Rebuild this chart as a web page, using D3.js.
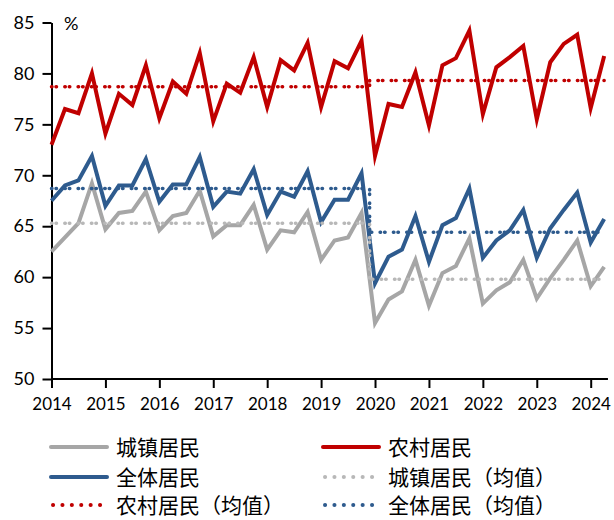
<!DOCTYPE html>
<html>
<head>
<meta charset="utf-8">
<script src="https://cdn.jsdelivr.net/npm/d3@7/dist/d3.min.js"></script>
<style>
  html, body { margin: 0; padding: 0; background: #fff; }
  svg { display: block; }
</style>
</head>
<body>
<svg id="chart" width="614" height="520"></svg>
<script>
// ---- Data (quarterly, 2014Q1 - 2024Q2) ----
const years = [2014, 2015, 2016, 2017, 2018, 2019, 2020, 2021, 2022, 2023, 2024];
const quarters = [];
for (let y = 2014; y <= 2024; y++) for (let q = 1; q <= 4; q++) if (!(y === 2024 && q > 2)) quarters.push(y + "Q" + q);

const urban = [62.5, 63.9, 65.3, 69.2, 64.7, 66.3, 66.5, 68.4, 64.6, 66.0, 66.3, 68.5,
               64.0, 65.1, 65.1, 67.1, 62.7, 64.6, 64.4, 66.4, 61.7, 63.6, 63.9, 66.3,
               55.5, 57.8, 58.6, 61.7, 57.2, 60.4, 61.1, 63.8, 57.4, 58.7, 59.5, 61.7,
               57.9, 59.9, 61.7, 63.6, 59.1, 61.0];
const rural = [73.0, 76.5, 76.1, 80.0, 74.1, 78.0, 76.9, 80.8, 75.6, 79.2, 78.0, 82.0,
               75.3, 79.0, 78.1, 81.6, 76.7, 81.3, 80.3, 83.0, 76.7, 81.2, 80.5, 83.2,
               71.9, 77.0, 76.7, 80.1, 74.9, 80.8, 81.5, 84.2, 76.0, 80.6, 81.6, 82.7,
               75.5, 81.1, 82.9, 83.8, 76.6, 81.7];
const total = [67.5, 69.0, 69.5, 71.9, 67.0, 69.0, 69.0, 71.6, 67.4, 69.1, 69.1, 71.8,
               66.9, 68.4, 68.2, 70.6, 66.1, 68.4, 67.9, 70.4, 65.4, 67.6, 67.6, 70.2,
               59.4, 62.0, 62.7, 66.0, 61.5, 65.1, 65.8, 68.7, 61.9, 63.6, 64.6, 66.6,
               61.9, 64.8, 66.6, 68.3, 63.4, 65.7];
// period means: 2014Q1-2019Q4, 2020Q1-2024Q2
const urbanMean = [65.3, 59.8];
const ruralMean = [78.7, 79.3];
const totalMean = [68.7, 64.4];
const yTicks = [50, 55, 60, 65, 70, 75, 80, 85];
const legendLabels = ["城镇居民", "农村居民", "全体居民", "城镇居民（均值）", "农村居民（均值）", "全体居民（均值）"];

// ---- Styles ----
const C_GRAY = "#a6a6a6", C_GRAY_D = "#b8b8b8", C_RED = "#c00000", C_BLUE = "#2e5b8e";
const svg = d3.select("#chart");
const FONT = "Lato, 'Liberation Sans', sans-serif";
const CJK = "'Noto Sans CJK SC', sans-serif";

// time value for each quarter index
const tOf = i => 2014 + i * 0.25;
const x = d3.scaleLinear().domain([2014, 2024]).range([51.5, 590.7]);
const y = d3.scaleLinear().domain([50, 85]).range([379, 22.5]);

// ---- Axes ----
const yAxis = d3.axisLeft(y).tickValues(yTicks).tickSize(9).tickSizeOuter(0).tickPadding(8);
const gy = svg.append("g").attr("transform", "translate(51.5,0)").call(yAxis);
gy.select(".domain").attr("stroke", "#000").attr("stroke-width", 2);
gy.selectAll(".tick line").attr("stroke", "#000").attr("stroke-width", 2);
gy.selectAll(".tick text").attr("font-family", FONT).attr("font-size", 18).attr("fill", "#000");

const xAxis = d3.axisBottom(x).tickValues(years).tickFormat(d3.format("d")).tickSize(9).tickSizeOuter(0).tickPadding(10);
const gx = svg.append("g").attr("transform", "translate(0,379)").call(xAxis);
gx.select(".domain").attr("d", `M${x(2014)},0H${x(2024.32)}`).attr("stroke", "#000").attr("stroke-width", 2);
gx.selectAll(".tick line").attr("stroke", "#000").attr("stroke-width", 2);
gx.selectAll(".tick text").attr("font-family", FONT).attr("font-size", 17).attr("fill", "#000");

svg.append("text").attr("x", 64).attr("y", 30).attr("font-family", FONT).attr("font-size", 18).text("%");

// ---- Lines ----
const line = d3.line().x((d, i) => x(tOf(i))).y(d => y(d));
const series = [
  { data: urban, color: C_GRAY },
  { data: rural, color: C_RED },
  { data: total, color: C_BLUE }
];
series.forEach(s => {
  svg.append("path").datum(s.data).attr("d", line)
    .attr("fill", "none").attr("stroke", s.color).attr("stroke-width", 4)
    .attr("stroke-linejoin", "miter").attr("stroke-miterlimit", 10);
});

// mean lines (step at the 2019/2020 boundary)
const split = 23.6, lastIdx = quarters.length - 1;
const means = [
  { m: urbanMean, color: C_GRAY_D },
  { m: ruralMean, color: C_RED },
  { m: totalMean, color: C_BLUE }
];
const meanLine = d3.line().x(d => x(tOf(d[0]))).y(d => y(d[1]));
means.forEach(s => {
  const pts = [[0, s.m[0]], [split, s.m[0]], [split, s.m[1]], [lastIdx, s.m[1]]];
  svg.append("path").datum(pts).attr("d", meanLine)
    .attr("fill", "none").attr("stroke", s.color).attr("stroke-width", 3.5)
    .attr("stroke-linecap", "round").attr("stroke-dasharray", "0.5,4,0.5,8.3");
});

// ---- Legend ----
const legendItems = [
  { label: legendLabels[0], color: C_GRAY, dotted: false },
  { label: legendLabels[1], color: C_RED, dotted: false },
  { label: legendLabels[2], color: C_BLUE, dotted: false },
  { label: legendLabels[3], color: C_GRAY_D, dotted: true },
  { label: legendLabels[4], color: C_RED, dotted: true },
  { label: legendLabels[5], color: C_BLUE, dotted: true }
];
const colX = [51, 323], rowY = [447, 477, 505];
legendItems.forEach((it, k) => {
  const cx = colX[k % 2], cy = rowY[Math.floor(k / 2)];
  const g = svg.append("g").attr("transform", `translate(${cx},${cy})`);
  if (it.dotted) {
    g.append("line").attr("x1", 2).attr("x2", 54).attr("y1", 0).attr("y2", 0)
      .attr("stroke", it.color).attr("stroke-width", 4).attr("stroke-linecap", "round")
      .attr("stroke-dasharray", "0.1,9.3");
  } else {
    g.append("line").attr("x1", 0).attr("x2", 56).attr("y1", 0).attr("y2", 0)
      .attr("stroke", it.color).attr("stroke-width", 4).attr("stroke-linecap", "round");
  }
  g.append("text").attr("x", 65).attr("y", 0).attr("dy", "0.36em")
    .attr("font-family", CJK).attr("font-size", 21).attr("fill", "#000").text(it.label);
});
</script>
</body>
</html>
